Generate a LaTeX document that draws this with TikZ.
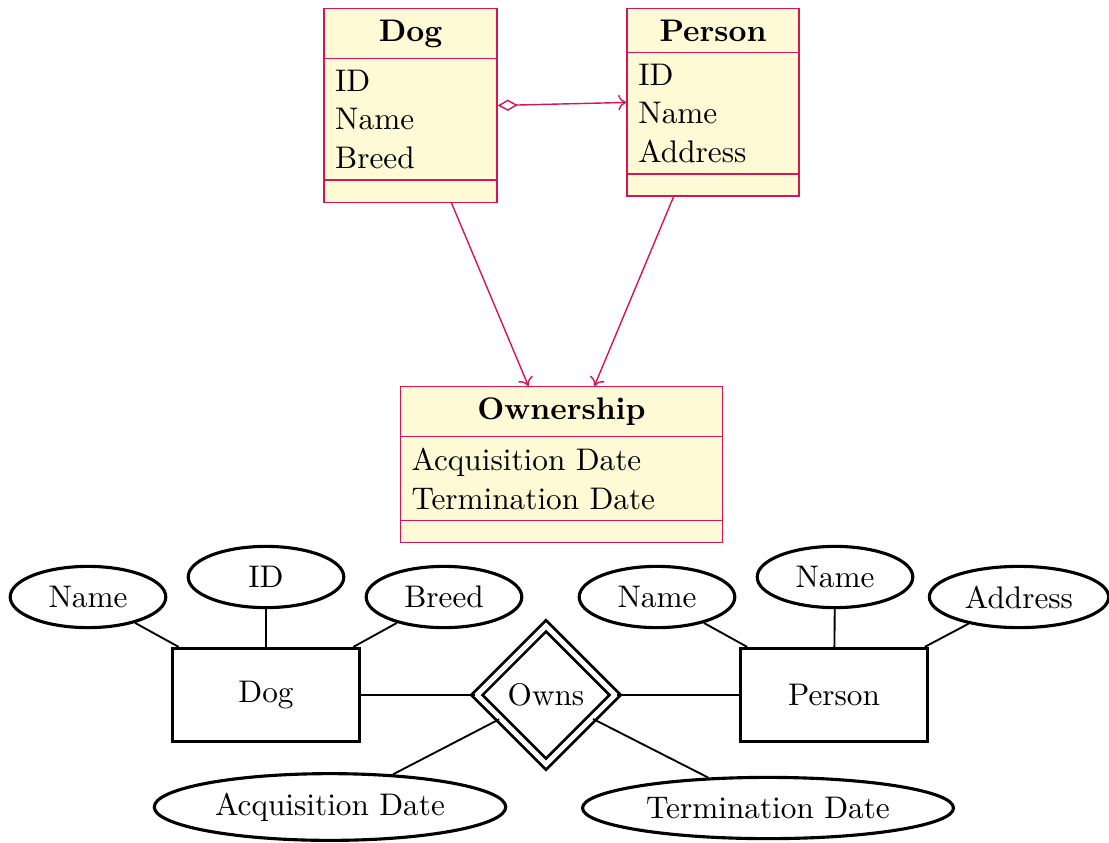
\documentclass[tikz,border=0pt]{standalone}
\usetikzlibrary{shapes.multipart,shapes.geometric,arrows.meta}
\definecolor{umldraw}{RGB}{214,22,84}
\definecolor{umlfill}{RGB}{255,250,214}
\tikzset{
  umlclass/.style={rectangle split, rectangle split parts=3, draw=umldraw,
    fill=umlfill, line width=0.45pt, anchor=north, inner xsep=3.6pt,
    inner ysep=3.33pt, font=\fontsize{10}{12.4}\selectfont},
  umlassoc/.style={draw=umldraw, line width=0.45pt, -{To[length=2.6pt,width=5pt]}},
  umlaggr/.style={draw=umldraw, line width=0.45pt,
    {Diamond[open,length=6.4pt,width=3.6pt]}-{To[length=2.6pt,width=5pt]}},
  entity/.style={rectangle, draw, line width=1pt, minimum width=59.8pt, minimum height=29.8pt},
  attrib/.style={ellipse, draw, line width=1pt, minimum width=49.8pt, minimum height=19.6pt, inner sep=3pt},
  relship/.style={diamond, draw, line width=0.9pt, double, double distance=1.6pt,
    aspect=1, inner sep=3.2pt},
  erline/.style={line width=0.6pt},
}
\begin{document}
\begin{tikzpicture}[x=0.32pt, y=-0.32pt]
\useasboundingbox (0,0) rectangle (1109,842);

% UML class diagram
\node[umlclass, text width=48.2pt] (dog) at (410.5,8)
  {\centering\textbf{Dog}\par
   \nodepart{two}ID\\Name\\Breed
   \nodepart{three}};
\node[umlclass, text width=47.8pt] (person) at (713,8)
  {\centering\textbf{Person}\par
   \nodepart{two}ID\\Name\\Address
   \nodepart{three}};
\node[umlclass, text width=96pt] (ownership) at (561.5,386)
  {\centering\textbf{Ownership}\par
   \nodepart{two}Acquisition Date\\Termination Date
   \nodepart{three}};

\draw[umlaggr] (dog.east) -- (person.west);
\draw[umlassoc] (dog) -- (ownership);
\draw[umlassoc] (person) -- (ownership);

% ER diagram
\node[entity] (erdog) at (266,695) {Dog};
\node[entity] (erperson) at (834,695) {Person};
\node[relship] (owns) at (546,695) {Owns};

\node[attrib] (dname) at (88,597) {Name};
\node[attrib] (did) at (266,577) {ID};
\node[attrib] (dbreed) at (444,597) {Breed};

\node[attrib] (pname) at (657,597) {Name};
\node[attrib] (pname2) at (835,577) {Name};
\node[attrib] (paddr) at (1019,597) {Address};

\node[attrib] (acq) at (330,807) {Acquisition Date};
\node[attrib] (term) at (768,808) {Termination Date};

\draw[erline] (dname) -- (erdog);
\draw[erline] (did) -- (erdog);
\draw[erline] (dbreed) -- (erdog);
\draw[erline] (pname) -- (erperson);
\draw[erline] (pname2) -- (erperson);
\draw[erline] (paddr) -- (erperson);
\draw[erline] (erdog) -- (owns);
\draw[erline] (owns) -- (erperson);
\draw[erline] (owns) -- (acq);
\draw[erline] (owns) -- (term);
\end{tikzpicture}
\end{document}
